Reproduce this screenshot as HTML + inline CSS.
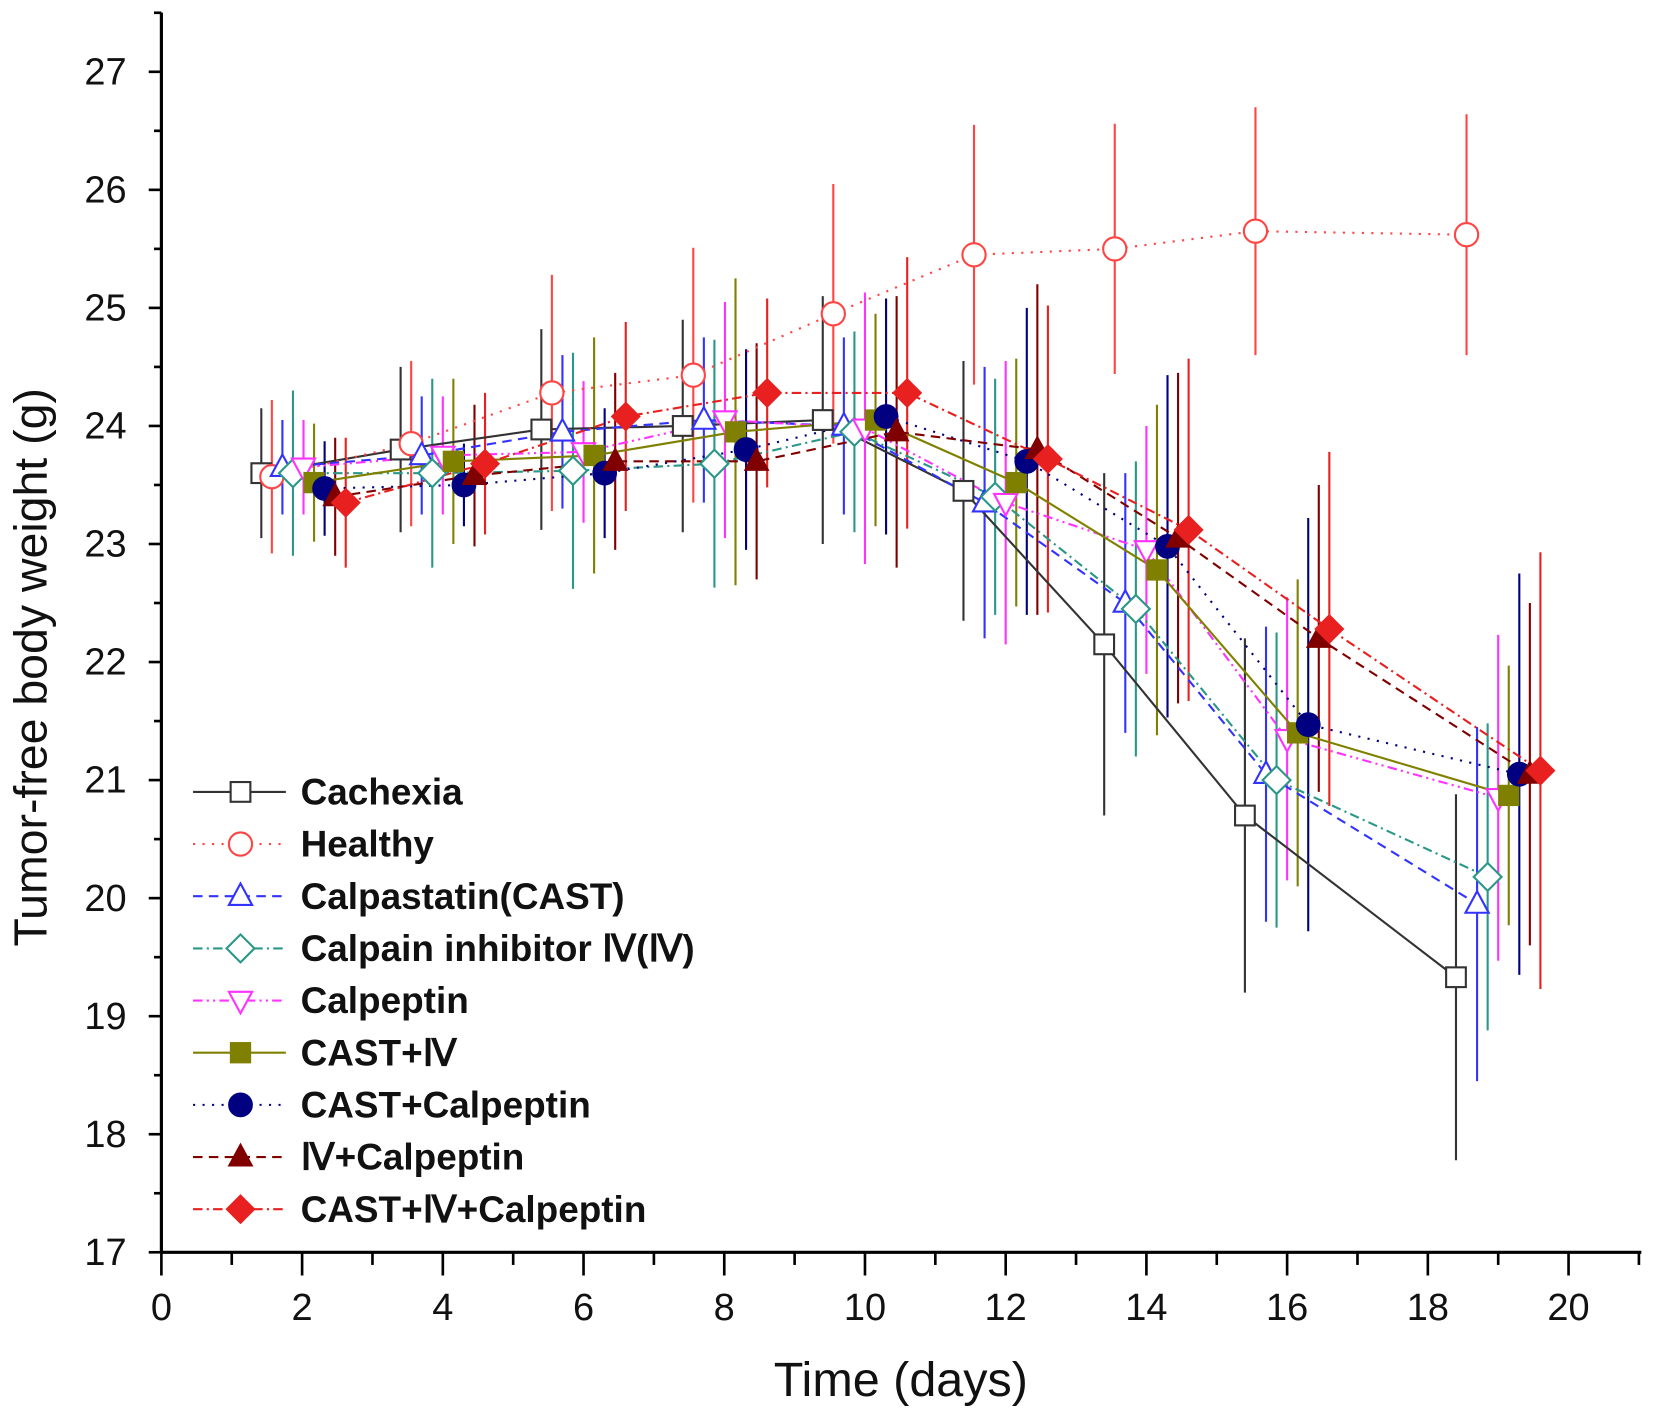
<!DOCTYPE html>
<html><head><meta charset="utf-8"><style>
html,body{margin:0;padding:0;background:#fff;}
svg{display:block;}
text{font-family:"Liberation Sans",Arial,sans-serif;}
</style></head>
<body>
<svg id="chart" width="1654" height="1417" viewBox="0 0 1568 1342" preserveAspectRatio="none" xmlns="http://www.w3.org/2000/svg">
<rect width="1568" height="1342" fill="#fff"/>
<g id="plot"></g>
<g id="axes"></g>
<g id="legend"></g>
<text x="854" y="1322" font-size="46" text-anchor="middle" fill="#111">Time (days)</text>
<text transform="translate(44,632) rotate(-90)" font-size="44" text-anchor="middle" fill="#111">Tumor-free body weight (g)</text>
</svg>
<script>
const seriesNames = ["Cachexia","Healthy","Calpastatin(CAST)","Calpain inhibitor \u2163(\u2163)","Calpeptin","CAST+\u2163","CAST+Calpeptin","\u2163+Calpeptin","CAST+\u2163+Calpeptin"];
const daysCachexia = [1.42,3.40,5.40,7.41,9.40,11.40,13.40,15.40,18.40];
const daysHealthy = [1.57,3.55,5.55,7.56,9.55,11.55,13.55,15.55,18.55];
const daysCast = [1.72,3.70,5.70,7.71,9.70,11.70,13.70,15.70,18.70];
const daysIV = [1.87,3.85,5.85,7.86,9.85,11.85,13.85,15.85,18.85];
const daysCalpeptin = [2.02,4.00,6.00,8.01,10.00,12.00,14.00,16.00,19.00];
const daysCastIV = [2.17,4.15,6.15,8.16,10.15,12.15,14.15,16.15,19.15];
const daysCastCalp = [2.32,4.30,6.30,8.31,10.30,12.30,14.30,16.30,19.30];
const daysIVCalp = [2.47,4.45,6.45,8.46,10.45,12.45,14.45,16.45,19.45];
const daysAll = [2.62,4.60,6.60,8.61,10.60,12.60,14.60,16.60,19.60];

const valCachexia = [23.6,23.8,23.97,24.0,24.05,23.45,22.15,20.7,19.33];
const valHealthy = [23.57,23.85,24.28,24.43,24.95,25.45,25.5,25.65,25.62];
const valCast = [23.65,23.75,23.95,24.05,24.0,23.35,22.5,21.05,19.95];
const valIV = [23.6,23.6,23.62,23.68,23.95,23.4,22.45,21.0,20.18];
const valCalpeptin = [23.65,23.75,23.78,24.05,23.98,23.35,22.95,21.35,20.85];
const valCastIV = [23.52,23.7,23.75,23.95,24.05,23.52,22.78,21.4,20.87];
const valCastCalp = [23.47,23.5,23.6,23.8,24.08,23.7,22.98,21.47,21.05];
const valIVCalp = [23.4,23.58,23.7,23.7,23.95,23.8,23.05,22.2,21.05];
const valAll = [23.35,23.68,24.08,24.28,24.28,23.72,23.12,22.28,21.08];

const errCachexia = [0.55,0.7,0.85,0.9,1.05,1.1,1.45,1.5,1.55];
const errHealthy = [0.65,0.7,1.0,1.08,1.1,1.1,1.06,1.05,1.02];
const errCast = [0.4,0.5,0.65,0.7,0.75,1.15,1.1,1.25,1.5];
const errIV = [0.7,0.8,1.0,1.05,0.85,1.0,1.25,1.25,1.3];
const errCalpeptin = [0.4,0.5,0.6,1.0,1.15,1.2,1.05,1.2,1.38];
const errCastIV = [0.5,0.7,1.0,1.3,0.9,1.05,1.4,1.3,1.1];
const errCastCalp = [0.4,0.35,0.55,0.85,1.0,1.3,1.45,1.75,1.7];
const errIVCalp = [0.5,0.6,0.75,1.0,1.15,1.4,1.4,1.3,1.45];
const errAll = [0.55,0.6,0.8,0.8,1.15,1.3,1.45,1.5,1.85];

const xTicks = [0,2,4,6,8,10,12,14,16,18,20];
const yTicks = [17,18,19,20,21,22,23,24,25,26,27];

const NS="http://www.w3.org/2000/svg";
const X0=153, XS=66.7, Y0=1186, YS=111.8;
function xs(d){return X0+d*XS;}
function ys(v){return Y0-(v-17)*YS;}
function mk(tag,attrs,parent){const e=document.createElementNS(NS,tag);for(const k in attrs)e.setAttribute(k,attrs[k]);parent.appendChild(e);return e;}

const styles=[
 {c:"#333",dash:"",m:"square",fill:"none"},
 {c:"#f44",dash:"2,7",m:"circle",fill:"none"},
 {c:"#33f",dash:"9,6",m:"tri",fill:"none"},
 {c:"#2a9888",dash:"9,4,2,4",m:"diamond",fill:"none"},
 {c:"#f3f",dash:"9,4,2,4,2,4",m:"itri",fill:"none"},
 {c:"#808000",dash:"",m:"square",fill:"#808000"},
 {c:"#000080",dash:"2,7",m:"circle",fill:"#000080"},
 {c:"#800000",dash:"9,6",m:"tri",fill:"#800000"},
 {c:"#e82020",dash:"9,4,2,4",m:"diamond",fill:"#e82020"}
];
const allDays=[daysCachexia,daysHealthy,daysCast,daysIV,daysCalpeptin,daysCastIV,daysCastCalp,daysIVCalp,daysAll];
const allVals=[valCachexia,valHealthy,valCast,valIV,valCalpeptin,valCastIV,valCastCalp,valIVCalp,valAll];
const allErrs=[errCachexia,errHealthy,errCast,errIV,errCalpeptin,errCastIV,errCastCalp,errIVCalp,errAll];

function marker(g,type,x,y,st,r){
  let e;
  const sw=st.fill==="none"?2:1.5;
  const f=st.fill==="none"?"#fff":st.fill;
  if(type==="square") e=mk("rect",{x:x-r*0.85,y:y-r*0.85,width:r*1.7,height:r*1.7,fill:f,stroke:st.c,"stroke-width":sw},g);
  else if(type==="circle") e=mk("circle",{cx:x,cy:y,r:r,fill:f,stroke:st.c,"stroke-width":sw},g);
  else if(type==="tri") e=mk("polygon",{points:`${x},${y-r*1.1} ${x+r},${y+r*0.75} ${x-r},${y+r*0.75}`,fill:f,stroke:st.c,"stroke-width":sw},g);
  else if(type==="itri") e=mk("polygon",{points:`${x},${y+r*1.1} ${x+r},${y-r*0.75} ${x-r},${y-r*0.75}`,fill:f,stroke:st.c,"stroke-width":sw},g);
  else e=mk("polygon",{points:`${x},${y-r*1.2} ${x+r*1.2},${y} ${x},${y+r*1.2} ${x-r*1.2},${y}`,fill:f,stroke:st.c,"stroke-width":sw},g);
  return e;
}

const plot=document.getElementById("plot");
for(let s=0;s<9;s++){
  const g=mk("g",{},plot);
  
  
  allDays[s].forEach((d,i)=>{
    const l=mk("line",{x1:xs(d),x2:xs(d),y1:ys(allVals[s][i]-allErrs[s][i]),y2:ys(allVals[s][i]+allErrs[s][i]),stroke:styles[s].c,"stroke-width":2},g);
    
    
  });
}
for(let s=0;s<9;s++){
  const pts=allDays[s].map((d,i)=>xs(d)+","+ys(allVals[s][i])).join(" ");
  const pl=mk("polyline",{points:pts,fill:"none",stroke:styles[s].c,"stroke-width":2,"stroke-dasharray":styles[s].dash},plot);
  
  
}
for(let s=0;s<9;s++){
  const g=mk("g",{},plot);
  
  
  allDays[s].forEach((d,i)=>{
    const m=marker(g,styles[s].m,xs(d),ys(allVals[s][i]),styles[s],11);
    
    
  });
}
const ax=document.getElementById("axes");
mk("line",{x1:X0,x2:X0,y1:12,y2:Y0+1,stroke:"#000","stroke-width":3},ax);
mk("line",{x1:X0-1,x2:1556,y1:Y0,y2:Y0,stroke:"#000","stroke-width":3},ax);
for(let v=17;v<=27.5;v+=0.5){
  const major=Number.isInteger(v);
  mk("line",{x1:X0-(major?12:7),x2:X0,y1:ys(v),y2:ys(v),stroke:"#000","stroke-width":2.5},ax);
}
yTicks.forEach(v=>{
  const t=mk("text",{x:120,y:ys(v)+12,"font-size":36,"text-anchor":"end",fill:"#111"},ax);
  t.textContent=v;
  
  
});
for(let d=0;d<=21;d++){
  const major=d%2===0;
  mk("line",{x1:xs(d),x2:xs(d),y1:Y0,y2:Y0+(major?22:12),stroke:"#000","stroke-width":2.5},ax);
}
xTicks.forEach(d=>{
  const t=mk("text",{x:xs(d),y:1250,"font-size":36,"text-anchor":"middle",fill:"#111"},ax);
  t.textContent=d;
  
  
});
const lg=document.getElementById("legend");
seriesNames.forEach((n,i)=>{
  const y=750+i*49.4;
  const g=mk("g",{},lg);
  
  
  mk("line",{x1:183,x2:271,y1:y,y2:y,stroke:styles[i].c,"stroke-width":2,"stroke-dasharray":styles[i].dash},g);
  marker(g,styles[i].m,228,y,styles[i],11);
  const t=mk("text",{x:285,y:y+12,"font-size":35,"font-weight":"bold",fill:"#111"},g);
  t.textContent=n;
});
</script>
</body></html>
